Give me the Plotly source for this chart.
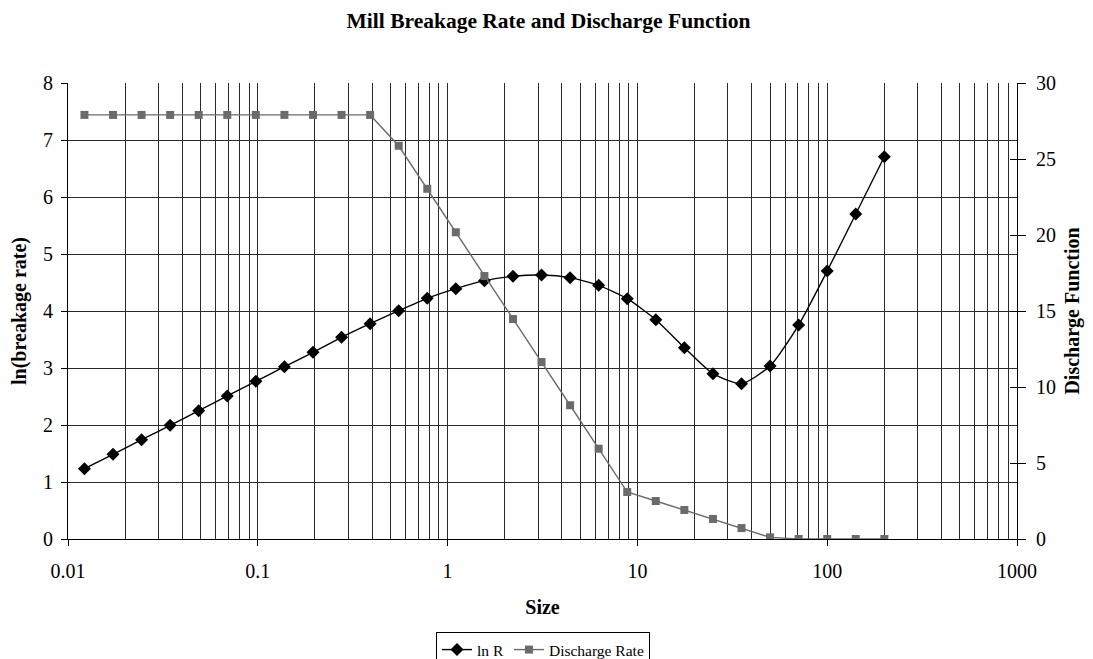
import plotly.graph_objects as go

size = [0.01221, 0.01726, 0.02441, 0.03453, 0.04883, 0.06905, 0.09766, 0.1381,
        0.1953, 0.2762, 0.3906, 0.5524, 0.7813, 1.105, 1.563, 2.210, 3.125,
        4.419, 6.25, 8.839, 12.5, 17.68, 25.0, 35.36, 50.0, 70.71, 100.0, 141.4, 200.0]

ln_r = [1.233, 1.485, 1.742, 1.994, 2.251, 2.509, 2.766, 3.023, 3.275, 3.538,
        3.777, 4.005, 4.222, 4.392, 4.532, 4.608, 4.632, 4.585, 4.450, 4.216,
        3.848, 3.357, 2.900, 2.725, 3.035, 3.754, 4.702, 5.702, 6.707]

discharge = [27.9, 27.9, 27.9, 27.9, 27.9, 27.9, 27.9, 27.9, 27.9, 27.9, 27.9,
             25.87, 23.04, 20.18, 17.30, 14.47, 11.64, 8.80, 5.94, 3.09, 2.50,
             1.91, 1.32, 0.72, 0.11, 0.0, 0.0, 0.0, 0.0]

FONT = "Liberation Serif"
GRID = "#2a2a2a"

fig = go.Figure()
fig.add_trace(go.Scatter(
    x=size, y=ln_r, name="ln R", mode="lines+markers",
    line=dict(color="black", width=1.4, shape="spline", smoothing=0.6),
    marker=dict(symbol="diamond", size=10, color="black"),
    yaxis="y"))
fig.add_trace(go.Scatter(
    x=size, y=discharge, name="Discharge Rate", mode="lines+markers",
    line=dict(color="#6b6b6b", width=1.4),
    marker=dict(symbol="square", size=8, color="#6b6b6b"),
    yaxis="y2"))
# helper trace so the inner tick marks of the right axis are drawn
fig.add_trace(go.Scatter(
    x=size, y=discharge, mode="markers", marker=dict(opacity=0),
    showlegend=False, hoverinfo="skip", yaxis="y3"))

fig.update_layout(
    width=1093, height=659,
    paper_bgcolor="white", plot_bgcolor="white",
    margin=dict(l=60, r=84, t=75, b=128, autoexpand=False),
    font=dict(family=FONT, color="black", size=20),
    title=dict(text="<b>Mill Breakage Rate and Discharge Function</b>",
               x=540.5 / 1093, xref="container", xanchor="center",
               y=1 - 12 / 659, yref="container", yanchor="middle",
               font=dict(family=FONT, size=21.5, color="black")),
    xaxis=dict(type="log", range=[-2, 3], dtick=1, automargin=False,
               showline=True, linecolor="black", linewidth=1,
               ticks="outside", ticklen=6, tickcolor="black",
               ticklabelstandoff=8,
               showgrid=True, gridcolor=GRID, gridwidth=1,
               minor=dict(dtick="D1", showgrid=True, gridcolor=GRID, gridwidth=1, ticks=""),
               zeroline=False,
               title=dict(text="<b>Size</b>", standoff=18,
                          font=dict(family=FONT, size=20))),
    yaxis=dict(range=[0, 8], dtick=1, automargin=False,
               showline=True, linecolor="black", linewidth=1,
               ticks="outside", ticklen=6, tickcolor="black",
               ticklabelstandoff=4,
               showgrid=True, gridcolor=GRID, gridwidth=1, zeroline=False,
               title=dict(text="<b>ln(breakage rate)</b>", standoff=12,
                          font=dict(family=FONT, size=20))),
    yaxis2=dict(range=[0, 30], dtick=5, overlaying="y", side="right", automargin=False,
                showline=True, linecolor="black", linewidth=1,
                ticks="outside", ticklen=8, tickcolor="black",
                ticklabelstandoff=6,
                showgrid=False, zeroline=False,
                title=dict(text="<b>Discharge Function</b>", standoff=9,
                           font=dict(family=FONT, size=20))),
    yaxis3=dict(range=[0, 30], dtick=5, overlaying="y", side="right", automargin=False,
                showline=False, ticks="inside", ticklen=7, tickcolor="black",
                showticklabels=False, showgrid=False, zeroline=False),
    legend=dict(orientation="h", x=(543 - 8) / 1093, xref="container", xanchor="center",
                y=1 - 624 / 659, yref="container", yanchor="top",
                bordercolor="black", borderwidth=1, bgcolor="white",
                font=dict(family=FONT, size=15.5), itemwidth=30,
                tracegroupgap=0),
    showlegend=True,
)

fig.write_html("out.html")
